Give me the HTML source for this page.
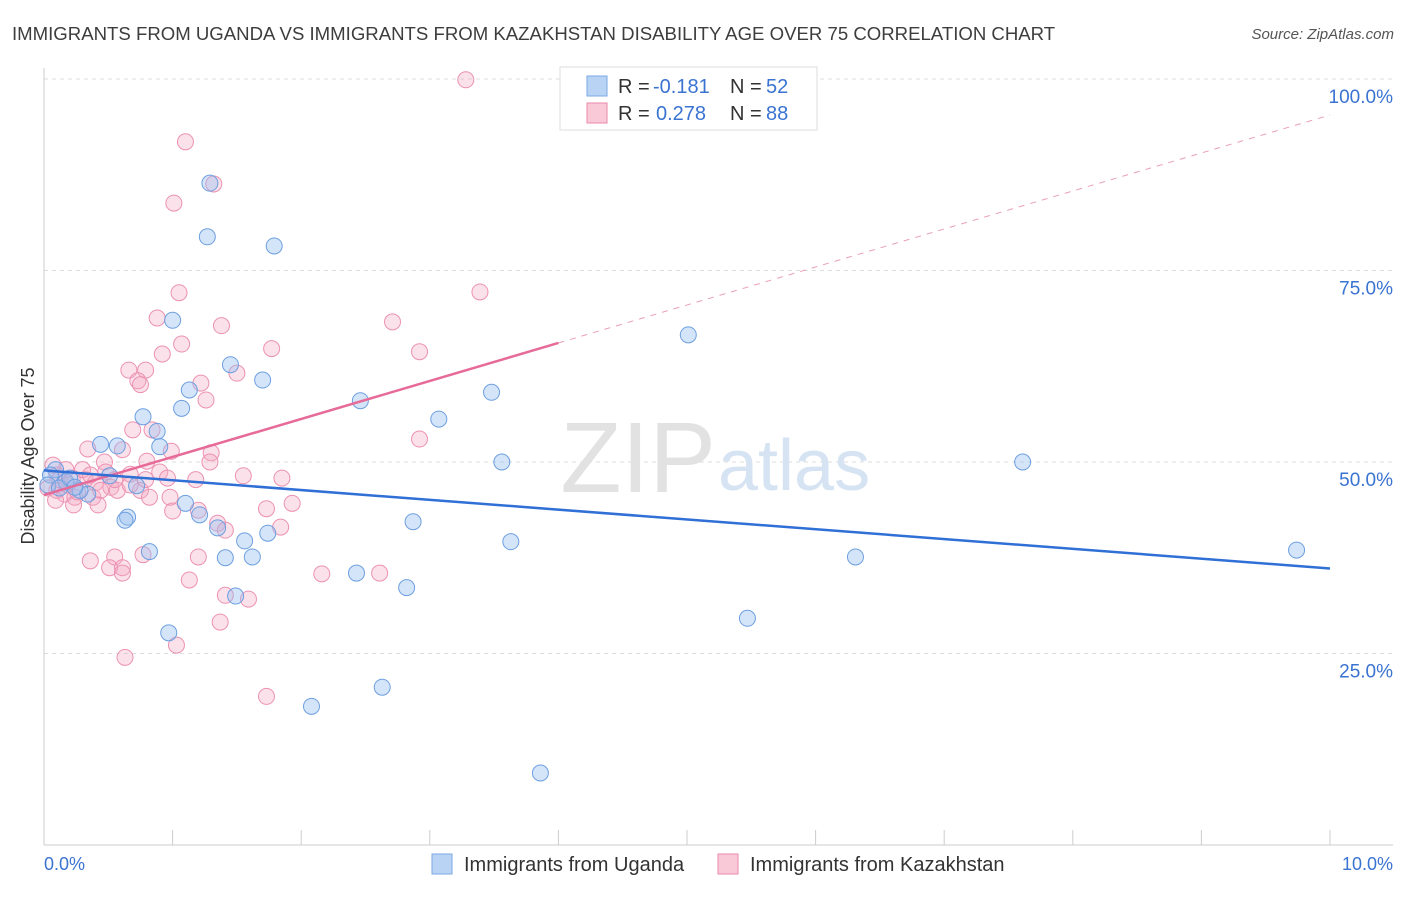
<!DOCTYPE html>
<html><head><meta charset="utf-8"><style>
body{margin:0;background:#fff;font-family:"Liberation Sans",sans-serif;}
svg text{font-family:"Liberation Sans",sans-serif;}
</style></head><body>
<svg id="chart" width="1406" height="892">
<text x="12" y="40" font-size="18.6" fill="#3d3d3d">IMMIGRANTS FROM UGANDA VS IMMIGRANTS FROM KAZAKHSTAN DISABILITY AGE OVER 75 CORRELATION CHART</text>
<text x="1394" y="39" font-size="15" fill="#555" font-style="italic" text-anchor="end">Source: ZipAtlas.com</text>
<g id="grid"></g>
<text x="716" y="492" font-size="100" fill="#e2e2e2" text-anchor="end" font-family="Liberation Serif">ZIP</text>
<text x="718" y="490" font-size="72" fill="#d6e3f3">atlas</text>
<g id="pts"></g>
<g id="trend"></g>
<g>
<rect x="560" y="67" width="257" height="63" fill="#fff" stroke="#ddd"/>
<rect x="587" y="76" width="20" height="20" fill="#b9d3f5" stroke="#7aa9e6"/>
<rect x="587" y="103" width="20" height="20" fill="#f9c9d8" stroke="#e98aab"/>
<text x="618" y="93" font-size="20" fill="#333">R =</text>
<text x="653" y="93" font-size="20" fill="#3a73d1">-0.181</text>
<text x="730" y="93" font-size="20" fill="#333">N =</text>
<text x="766" y="93" font-size="20" fill="#3a73d1">52</text>
<text x="618" y="120" font-size="20" fill="#333">R =</text>
<text x="656" y="120" font-size="20" fill="#3a73d1">0.278</text>
<text x="730" y="120" font-size="20" fill="#333">N =</text>
<text x="766" y="120" font-size="20" fill="#3a73d1">88</text>
</g>
<text x="34" y="456" font-size="18" fill="#333" text-anchor="middle" transform="rotate(-90 34 456)">Disability Age Over 75</text>
<text x="44" y="870" font-size="18" fill="#3a73d1">0.0%</text>
<text x="1393" y="870" font-size="18" fill="#3a73d1" text-anchor="end">10.0%</text>
<g>
<rect x="432" y="854" width="20" height="20" fill="#b9d3f5" stroke="#7aa9e6"/>
<text x="464" y="871" font-size="20" fill="#333">Immigrants from Uganda</text>
<rect x="718" y="854" width="20" height="20" fill="#f9c9d8" stroke="#e98aab"/>
<text x="750" y="871" font-size="20" fill="#333">Immigrants from Kazakhstan</text>
</g>
</svg>
<script>
const yTicks=[25,50,75,100];
const yTickLabels=["25.0%","50.0%","75.0%","100.0%"];
const xTicks=[0,1,2,3,4,5,6,7,8,9,10];
const ugandaX=[1.29,1.27,1.79,1.00,5.01,1.45,1.70,1.13,3.48,1.07,2.46,0.77,3.07,0.88,0.44,0.57,0.90,3.56,7.61,0.51,0.72,0.34,0.17,0.09,0.05,0.03,0.12,0.28,0.65,0.63,1.10,1.21,1.35,2.87,1.74,3.63,1.56,0.82,1.41,1.62,6.31,9.74,2.43,1.49,2.82,5.47,0.97,2.63,2.08,3.86,0.20,0.24];
const ugandaY=[86.4,79.4,78.2,68.5,66.6,62.7,60.7,59.4,59.1,57.0,58.0,55.9,55.6,54.0,52.3,52.1,52.0,50.0,50.0,48.2,46.9,45.8,47.4,49.0,48.3,47.0,46.6,46.3,42.8,42.4,44.6,43.1,41.4,42.2,40.7,39.6,39.7,38.3,37.5,37.6,37.6,38.5,35.5,32.5,33.6,29.6,27.7,20.6,18.1,9.4,47.9,46.7];
const kazX=[3.28,1.10,1.32,1.01,1.05,3.39,0.88,1.38,2.71,1.07,0.92,1.77,2.92,1.50,0.66,0.79,0.73,0.75,1.22,1.26,0.84,0.69,0.99,2.92,1.30,0.34,0.61,0.47,0.80,1.29,0.90,0.67,1.55,1.85,1.18,0.96,0.17,0.10,0.22,0.32,0.40,0.52,0.10,0.16,0.24,0.38,0.57,0.75,0.82,0.98,0.23,1.00,1.93,1.73,1.20,1.35,1.84,0.36,0.55,0.51,0.61,0.61,0.77,1.20,1.13,2.16,2.61,1.41,1.59,1.37,1.03,0.63,1.73,0.07,0.12,0.03,0.30,0.44,1.41,0.48,0.26,0.09,0.18,0.67,0.79,0.36,0.55,0.42];
const kazY=[99.9,91.8,86.3,83.8,72.1,72.2,68.8,67.8,68.3,65.4,64.1,64.8,64.4,61.6,62.0,62.0,60.6,60.1,60.3,58.1,54.2,54.2,51.4,53.0,51.2,51.7,51.6,50.0,50.1,50.0,48.7,48.4,48.2,47.9,47.7,47.9,49.0,48.3,47.9,47.7,47.3,46.7,46.3,45.8,45.4,45.4,46.3,46.3,45.4,45.4,44.4,43.6,44.6,43.9,43.7,42.0,41.5,37.1,37.6,36.2,36.2,35.5,37.9,37.6,34.6,35.4,35.5,32.6,32.1,29.1,26.1,24.5,19.4,49.6,47.7,46.6,49.0,46.3,41.1,48.7,46.1,45.0,47.0,47.0,47.7,48.3,47.7,44.4];
const ugandaTrend=[48.9,36.1];
const kazTrend=[45.7,95.3];
const kazSolidEnd=4.0;
const NS="http://www.w3.org/2000/svg";
const X=v=>44+v*128.6, Y=v=>845-v*7.66;
function mk(tag,attrs,parent){const e=document.createElementNS(NS,tag);for(const k in attrs)e.setAttribute(k,attrs[k]);parent.appendChild(e);return e;}
const grid=document.getElementById('grid');
yTicks.forEach((t,i)=>{
 const l=mk('line',{x1:44,x2:1393,y1:Y(t),y2:Y(t),stroke:'#ddd','stroke-dasharray':'4,4'},grid);
 
 
 const tx=mk('text',{x:1393,y:Y(t)+24,'font-size':19,fill:'#3a73d1','text-anchor':'end'},grid);
 tx.textContent=yTickLabels[i];
 
 
});
const ax=mk('line',{x1:44,x2:1393,y1:845,y2:845,stroke:'#ccc'},grid);


const ay=mk('line',{x1:44,x2:44,y1:68,y2:845,stroke:'#ccc'},grid);


xTicks.forEach(t=>{
 const l=mk('line',{x1:X(t),x2:X(t),y1:830,y2:845,stroke:'#ccc'},grid);
 
 
});
const pts=document.getElementById('pts');
kazX.forEach((x,i)=>{
 const c=mk('circle',{cx:X(x),cy:Y(kazY[i]),r:8,fill:'rgba(244,170,196,0.35)',stroke:'#ec92b2','stroke-width':1},pts);
 
 
});
ugandaX.forEach((x,i)=>{
 const c=mk('circle',{cx:X(x),cy:Y(ugandaY[i]),r:8,fill:'rgba(150,190,240,0.4)',stroke:'#6d9fe0','stroke-width':1},pts);
 
 
});
const tr=document.getElementById('trend');
const kY=x=>kazTrend[0]+(kazTrend[1]-kazTrend[0])*x/10;
const kd=mk('line',{x1:X(kazSolidEnd),y1:Y(kY(kazSolidEnd)),x2:X(10),y2:Y(kazTrend[1]),stroke:'#eaa0bb','stroke-width':1,'stroke-dasharray':'6,6'},tr);


const ks=mk('line',{x1:X(0),y1:Y(kazTrend[0]),x2:X(kazSolidEnd),y2:Y(kY(kazSolidEnd)),stroke:'#e66b98','stroke-width':2.5},tr);


const ub=mk('line',{x1:X(0),y1:Y(ugandaTrend[0]),x2:X(10),y2:Y(ugandaTrend[1]),stroke:'#2f6fd6','stroke-width':2.5},tr);


</script>
</body></html>
